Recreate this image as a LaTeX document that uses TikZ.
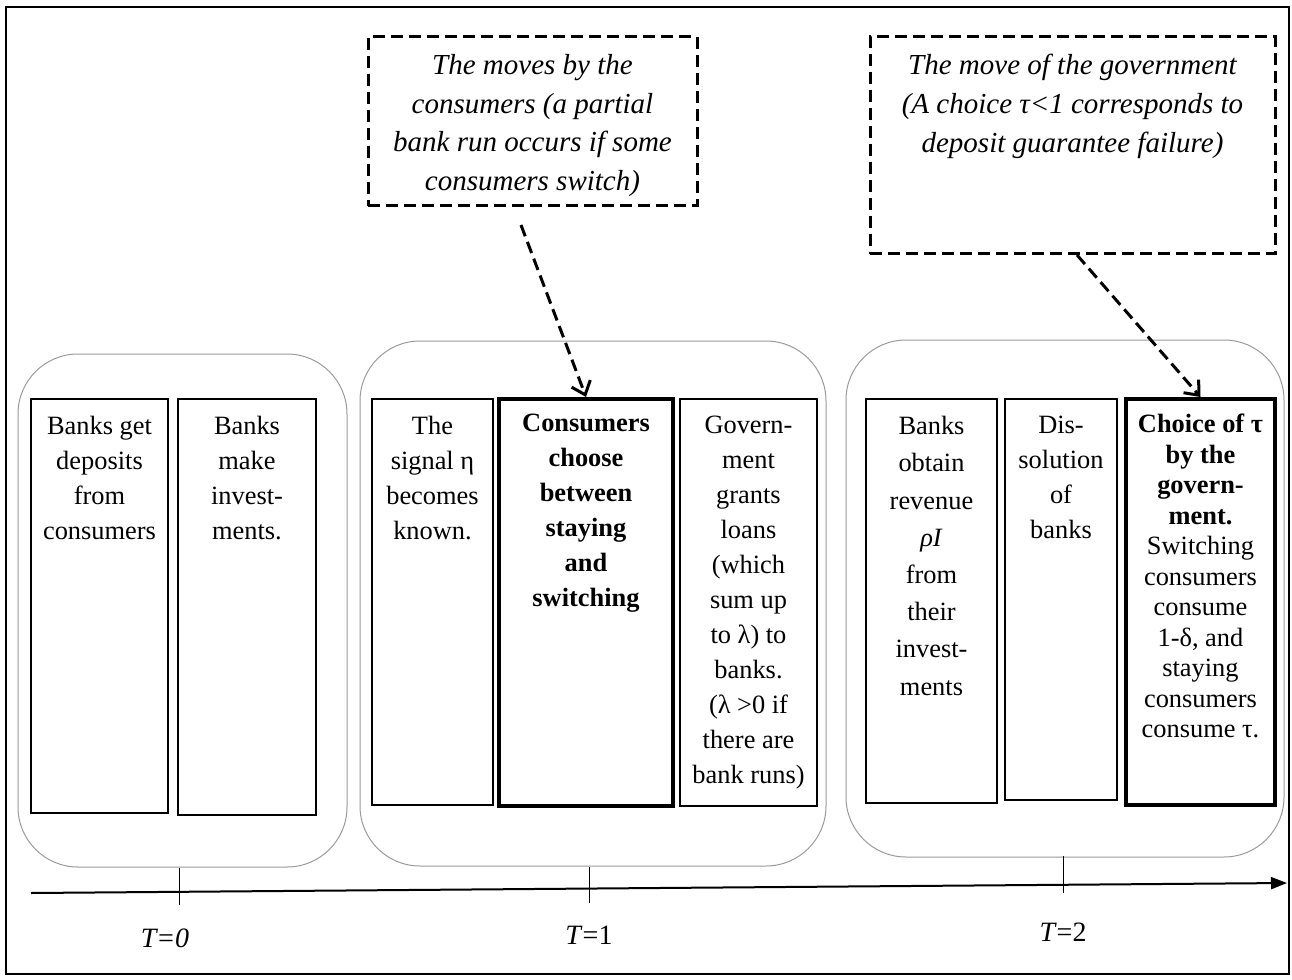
\documentclass[tikz,border=0pt]{standalone}
\usepackage{fontspec}
\setmainfont{Liberation Serif}
\usetikzlibrary{arrows.meta,positioning,calc}
\definecolor{ink}{HTML}{000000}
\definecolor{rim}{HTML}{9A9A9A}
\tikzset{
  ev/.style={draw=ink, line width=1pt, anchor=north, inner sep=0pt},
  evbold/.style={ev, line width=2pt},
  evtxt/.style={anchor=north, inner sep=0pt, align=center, text=ink, font=\fontsize{13.2}{17.5}\selectfont},
  note/.style={draw=ink, line width=1.5pt, dash pattern=on 6pt off 3pt, anchor=north, inner sep=0pt},
  notetxt/.style={anchor=north, inner sep=0pt, align=center, text=ink, font=\fontsize{14.5}{19.3}\selectfont\itshape},
  grp/.style={draw=rim, line width=0.5pt, rounded corners=30pt},
  arr/.style={-{Straight Barb[length=6pt,width=10pt]}, line width=1.5pt, dash pattern=on 6pt off 3pt, draw=ink},
  lab/.style={font=\fontsize{14}{16}\selectfont, text=ink},
}

\begin{document}
\begin{tikzpicture}[x=0.5pt,y=-0.5pt]
  \useasboundingbox (0,0) rectangle (1292,980);
  \draw[line width=0.8pt] (6,7) rectangle (1289,974);
  % periods
  \draw[grp] (18,354) rectangle (347,867);
  \draw[grp] (360,341) rectangle (826,866);
  \draw[grp] (846,340) rectangle (1284,857);
  % events at T=0
  \node[ev, minimum width=68.5pt, minimum height=207pt] (b1) at (99.5,398) {};
  \node[evtxt] (t1) at ([yshift=-9pt]b1.north) {Banks get\\deposits\\from\\consumers};
  \node[ev, minimum width=69pt, minimum height=208pt] (b2) at (247,398) {};
  \node[evtxt] (t2) at ([yshift=-9pt]b2.north) {Banks\\make\\invest-\\ments.};
  % events at T=1
  \node[ev, minimum width=60.5pt, minimum height=203pt] (b3) at (432.5,398) {};
  \node[evtxt] (t3) at ([yshift=-9pt]b3.north) {The\\signal η\\becomes\\known.};
  \node[evbold, minimum width=87pt, minimum height=203.5pt] (b4) at (586,397) {};
  \node[evtxt, font=\fontsize{13.2}{17.5}\selectfont\bfseries] (t4) at ([yshift=-8.5pt]b4.north) {Consumers\\choose\\between\\staying\\and\\switching};
  \node[ev, minimum width=68.5pt, minimum height=203.5pt] (b5) at (748.5,398) {};
  \node[evtxt] (t5) at ([yshift=-9pt]b5.north) {Govern-\\ment\\grants\\loans\\(which\\sum up\\to λ) to\\banks.\\(λ >0 if\\there are\\bank runs)};
  % events at T=2
  \node[ev, minimum width=65.5pt, minimum height=202pt] (b6) at (931.5,398) {};
  \node[evtxt, font=\fontsize{13.2}{18.6}\selectfont] (t6) at ([yshift=-9pt]b6.north) {Banks\\obtain\\revenue\\\textit{ρI}\\from\\their\\invest-\\ments};
  \node[ev, minimum width=56pt, minimum height=200.5pt] (b7) at (1061,398) {};
  \node[evtxt] (t7) at ([yshift=-9pt]b7.north) {Dis-\\solution\\of\\banks};
  \node[evbold, minimum width=74.5pt, minimum height=203pt] (b8) at (1200.5,397) {};
  \node[evtxt, font=\fontsize{13.2}{15.25}\selectfont] (t8) at ([yshift=-8.5pt]b8.north) {\textbf{Choice of τ}\\\textbf{by the}\\\textbf{govern-}\\\textbf{ment.}\\Switching\\consumers\\consume\\1-δ, and\\staying\\consumers\\consume τ.};
  % moves
  \node[note, minimum width=164.5pt, minimum height=84.5pt] (mv1) at (532.5,35) {};
  \node[notetxt] (n1) at ([yshift=-9.5pt]mv1.north) {The moves by the\\consumers (a partial\\bank run occurs if some\\consumers switch)};
  \node[note, minimum width=202.5pt, minimum height=108.5pt] (mv2) at (1072.5,35) {};
  \node[notetxt] (n2) at ([yshift=-9.5pt]mv2.north) {The move of the government\\(A choice τ<1 corresponds to\\deposit guarantee failure)};
  \draw[arr] ([xshift=-5.75pt,yshift=-9pt]mv1.south) -- (b4.north);
  \draw[arr] ([xshift=2.25pt]mv2.south) -- (b8.north);
  % time axis
  \coordinate (ax0) at (31,893);
  \coordinate (ax1) at (1287,883);
  \draw[line width=1pt, -{Triangle[length=8pt,width=6pt]}] (ax0) -- (ax1);
  \foreach \x/\ya/\yb in {179/868/905, 589/867/903, 1063/856/893}
    \draw[line width=0.5pt] (\x,\ya) -- (\x,\yb);
  \node[lab] (l0) at (165,938) {\textit{T=0}};
  \node[lab] (l1) at (589,935) {\textit{T}=1};
  \node[lab] (l2) at (1063,932) {\textit{T}=2};
\end{tikzpicture}
\end{document}
